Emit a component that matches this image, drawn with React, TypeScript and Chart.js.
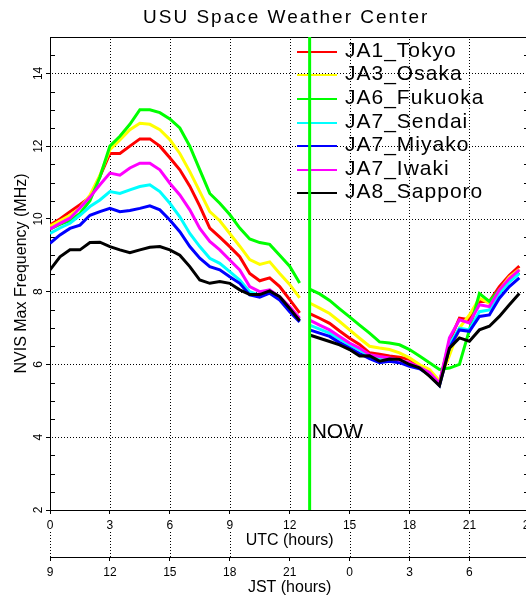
import React, { useEffect, useRef } from "react";
import { Chart, registerables } from "chart.js";

Chart.register(...registerables);

// ---- data ----
const HOURS_DAY = [0, 0.5, 1, 1.5, 2, 2.5, 3, 3.5, 4, 4.5, 5, 5.5, 6, 6.5, 7, 7.5, 8, 8.5, 9, 9.5, 10, 10.5, 11, 11.5, 12, 12.5];
const HOURS_NIGHT = [13, 13.5, 14, 14.5, 15, 15.5, 16, 16.5, 17, 17.5, 18, 18.5, 19, 19.5, 20, 20.5, 21, 21.5, 22, 22.5, 23, 23.5];

const STATIONS = ["JA1_Tokyo", "JA3_Osaka", "JA6_Fukuoka", "JA7_Sendai", "JA7_Miyako", "JA7_Iwaki", "JA8_Sapporo"];
const COLORS = ["#ff0000", "#ffff00", "#00ff00", "#00ffff", "#0000ff", "#ff00ff", "#000000"];

const TOKYO_DAY = [9.83, 10.0, 10.2, 10.39, 10.6, 11.17, 11.8, 11.8, 12.0, 12.2, 12.2, 12.0, 11.68, 11.35, 10.9, 10.35, 9.75, 9.5, 9.24, 8.96, 8.5, 8.3, 8.38, 8.14, 7.78, 7.42];
const TOKYO_NIGHT = [7.4, 7.27, 7.13, 6.92, 6.72, 6.55, 6.32, 6.28, 6.23, 6.2, 6.14, 5.95, 5.82, 5.5, 6.64, 7.27, 7.23, 7.73, 7.73, 8.14, 8.45, 8.7];

const OSAKA_DAY = [9.8, 9.95, 10.1, 10.3, 10.65, 11.2, 11.9, 12.17, 12.45, 12.63, 12.6, 12.45, 12.18, 11.8, 11.3, 10.75, 10.2, 9.95, 9.6, 9.25, 8.88, 8.75, 8.82, 8.5, 8.2, 7.83];
const OSAKA_NIGHT = [7.69, 7.55, 7.4, 7.18, 6.95, 6.72, 6.5, 6.45, 6.41, 6.32, 6.18, 6.0, 5.86, 5.55, 6.25, 7.0, 7.36, 7.82, 7.68, 8.05, 8.4, 8.62];

const FUKUOKA_DAY = [9.72, 9.85, 9.95, 10.15, 10.5, 11.15, 12.0, 12.27, 12.6, 13.0, 13.0, 12.92, 12.75, 12.5, 12.0, 11.35, 10.7, 10.43, 10.12, 9.75, 9.45, 9.35, 9.3, 9.0, 8.7, 8.24];
const FUKUOKA_NIGHT = [8.07, 7.94, 7.76, 7.53, 7.31, 7.08, 6.86, 6.62, 6.59, 6.54, 6.41, 6.23, 6.05, 5.86, 5.9, 6.0, 6.95, 7.95, 7.73, 8.05, 8.32, 8.52];

const SENDAI_DAY = [9.6, 9.75, 9.88, 10.1, 10.34, 10.52, 10.75, 10.7, 10.8, 10.89, 10.94, 10.75, 10.43, 10.06, 9.6, 9.24, 8.92, 8.78, 8.55, 8.32, 8.0, 7.9, 7.97, 7.82, 7.5, 7.22];
const SENDAI_NIGHT = [7.08, 6.97, 6.86, 6.7, 6.54, 6.4, 6.23, 6.18, 6.14, 6.08, 6.0, 5.9, 5.75, 5.45, 6.55, 7.0, 6.95, 7.45, 7.5, 7.95, 8.27, 8.5];

const MIYAKO_DAY = [9.33, 9.56, 9.74, 9.83, 10.1, 10.2, 10.29, 10.2, 10.23, 10.29, 10.36, 10.25, 9.97, 9.65, 9.24, 8.92, 8.69, 8.6, 8.41, 8.23, 7.91, 7.85, 7.96, 7.77, 7.45, 7.17];
const MIYAKO_NIGHT = [6.95, 6.86, 6.77, 6.6, 6.45, 6.3, 6.16, 6.05, 6.09, 6.05, 5.95, 5.88, 5.72, 5.42, 6.45, 6.95, 6.91, 7.32, 7.36, 7.82, 8.14, 8.38];

const IWAKI_DAY = [9.72, 9.88, 10.02, 10.3, 10.6, 10.94, 11.26, 11.2, 11.4, 11.53, 11.53, 11.35, 10.98, 10.66, 10.25, 9.74, 9.38, 9.15, 8.87, 8.6, 8.14, 8.0, 8.05, 7.86, 7.59, 7.27];
const IWAKI_NIGHT = [7.22, 7.08, 6.95, 6.77, 6.59, 6.45, 6.27, 6.22, 6.18, 6.12, 6.05, 5.92, 5.78, 5.48, 6.73, 7.23, 7.14, 7.64, 7.59, 8.05, 8.36, 8.6];

const SAPPORO_DAY = [8.6, 8.96, 9.15, 9.15, 9.35, 9.36, 9.24, 9.15, 9.07, 9.15, 9.22, 9.24, 9.15, 9.0, 8.69, 8.32, 8.23, 8.28, 8.23, 8.05, 7.92, 7.92, 8.02, 7.86, 7.54, 7.2];
const SAPPORO_NIGHT = [6.81, 6.72, 6.63, 6.54, 6.41, 6.23, 6.24, 6.09, 6.15, 6.14, 6.0, 5.91, 5.68, 5.42, 6.45, 6.73, 6.64, 6.95, 7.05, 7.32, 7.64, 7.95];

const DAY_VALUES = [TOKYO_DAY, OSAKA_DAY, FUKUOKA_DAY, SENDAI_DAY, MIYAKO_DAY, IWAKI_DAY, SAPPORO_DAY];
const NIGHT_VALUES = [TOKYO_NIGHT, OSAKA_NIGHT, FUKUOKA_NIGHT, SENDAI_NIGHT, MIYAKO_NIGHT, IWAKI_NIGHT, SAPPORO_NIGHT];

const UTC_TICKS = [0, 3, 6, 9, 12, 15, 18, 21, 24];
const JST_LABELS = ["9", "12", "15", "18", "21", "0", "3", "6", "9"];
const Y_TICKS = [2, 4, 6, 8, 10, 12, 14];
const Y_TICK_LABELS = ["2", "4", "6", "8", "10", "12", "14"];
const NOW_HOUR = 13;
const GAP_HOUR = 12.75;

const TITLE = "USU Space Weather Center";
const Y_TITLE = "NVIS Max Frequency (MHz)";
const X_TITLE = "UTC (hours)";
const X2_TITLE = "JST (hours)";
const NOW_LABEL = "NOW";

const FONT = "'Liberation Sans', Arial, Helvetica, sans-serif";

function buildSeries(day: number[], night: number[]) {
  const pts: { x: number; y: number | null }[] = [];
  HOURS_DAY.forEach((h, i) => pts.push({ x: h, y: day[i] }));
  pts.push({ x: GAP_HOUR, y: null });
  HOURS_NIGHT.forEach((h, i) => pts.push({ x: h, y: night[i] }));
  return pts;
}

function dotsV(ctx: CanvasRenderingContext2D, x: number, y1: number, y2: number) {
  for (let y = y1; y <= y2; y += 3) ctx.fillRect(x, y, 1, 1);
}
function dotsH(ctx: CanvasRenderingContext2D, y: number, x1: number, x2: number) {
  for (let x = x1; x <= x2; x += 3) ctx.fillRect(x, y, 1, 1);
}

const decorPlugin = {
  id: "decor",
  beforeDraw(chart: any) {
    const { ctx } = chart;
    ctx.save();
    ctx.fillStyle = "#ffffff";
    ctx.fillRect(0, 0, chart.width, chart.height);
    ctx.restore();
  },
  beforeDatasetsDraw(chart: any) {
    const { ctx, chartArea, scales } = chart;
    const ys = scales.y;
    const xs = scales.x;
    const x2 = scales.x2;
    ctx.save();
    ctx.fillStyle = "#000000";
    const left = Math.round(chartArea.left);
    const right = Math.round(chartArea.right);
    const top = Math.round(chartArea.top);
    const bottom = Math.round(chartArea.bottom);

    // dotted grid at the scales' ticks
    xs.ticks.forEach((t: any) => {
      if (t.value >= 24) return;
      const px = Math.round(xs.getPixelForValue(t.value));
      if (t.value > 0) dotsV(ctx, px, top + 2, bottom - 1);
      if (t.value !== 12) dotsV(ctx, px, bottom + 22, Math.round(x2.top) - 1);
    });
    ys.ticks.forEach((t: any) => {
      if (t.value <= 2) return;
      const py = Math.round(ys.getPixelForValue(t.value));
      dotsH(ctx, py, left + 2, right);
    });

    // top border
    ctx.fillRect(left, top, right - left, 1);
    // minor ticks every 0.5 (inward, both sides)
    for (let v = 2.5; v < 15; v += 0.5) {
      if (Math.abs(v % 2) < 1e-6) continue;
      const py = Math.round(ys.getPixelForValue(v));
      ctx.fillRect(left, py, 5, 1);
      ctx.fillRect(right - 5, py, 5, 1);
    }

    // rotated y tick labels
    ctx.font = `12px ${FONT}`;
    ctx.textAlign = "center";
    ctx.textBaseline = "alphabetic";
    Y_TICKS.forEach((v, i) => {
      const py = ys.getPixelForValue(v);
      ctx.save();
      ctx.translate(chartArea.left - 8, py);
      ctx.rotate(-Math.PI / 2);
      ctx.fillText(Y_TICK_LABELS[i], 0, 0);
      ctx.restore();
    });

    // y axis title
    ctx.save();
    ctx.font = `16px ${FONT}`;
    ctx.translate(26, (chartArea.top + chartArea.bottom) / 2);
    ctx.rotate(-Math.PI / 2);
    ctx.textAlign = "center";
    ctx.fillText(Y_TITLE, 0, 0);
    ctx.restore();

    // title
    ctx.font = `19px ${FONT}`;
    ctx.textAlign = "left";
    (ctx as any).letterSpacing = "2px";
    ctx.fillText(TITLE, 143, 23);

    // legend
    ctx.font = `21px ${FONT}`;
    (ctx as any).letterSpacing = "1px";
    STATIONS.forEach((name, i) => {
      const base = 56.7 + i * 23.6;
      ctx.fillStyle = COLORS[i];
      ctx.fillRect(297, Math.round(base - 6), 40, 2);
      ctx.fillStyle = "#000";
      ctx.fillText(name, 345, base);
    });
    (ctx as any).letterSpacing = "0px";

    // NOW label
    ctx.font = `21px ${FONT}`;
    ctx.fillText(NOW_LABEL, xs.getPixelForValue(NOW_HOUR) + 2, ys.getPixelForValue(4) + 1);
    ctx.restore();
  },
};

export default function App() {
  const ref = useRef<HTMLCanvasElement | null>(null);

  useEffect(() => {
    if (!ref.current) return;
    const datasets: any[] = STATIONS.map((name, i) => ({
      label: name,
      data: buildSeries(DAY_VALUES[i], NIGHT_VALUES[i]),
      borderColor: COLORS[i],
      backgroundColor: COLORS[i],
      borderWidth: 3,
      pointRadius: 0,
      tension: 0,
      fill: false,
      spanGaps: false,
      order: STATIONS.length - i,
    }));
    datasets.push({
      label: "NOW",
      data: [
        { x: NOW_HOUR, y: 2 },
        { x: NOW_HOUR, y: 15 },
      ],
      borderColor: "#00ff00",
      borderWidth: 3,
      pointRadius: 0,
      fill: false,
      order: 0,
    });

    const tickList = (vals: number[]) => (s: any) => {
      s.ticks = vals.map((v) => ({ value: v }));
    };

    const chart = new Chart(ref.current, {
      type: "line",
      data: { datasets },
      options: {
        animation: false,
        responsive: false,
        layout: { padding: { top: 37, right: 10, left: 0, bottom: 0 } },
        plugins: { legend: { display: false }, tooltip: { enabled: false }, title: { display: false } },
        scales: {
          x: {
            type: "linear",
            position: "bottom",
            min: 0,
            max: 24,
            weight: 0,
            afterBuildTicks: tickList(UTC_TICKS),
            afterFit: (s: any) => {
              s.height = 47;
            },
            grid: { display: true, drawOnChartArea: false, color: "#000", lineWidth: 1, drawTicks: true, tickLength: 4, tickColor: "#000" },
            border: { display: true, color: "#000", width: 1 },
            ticks: { color: "#000", font: { family: FONT, size: 12 }, padding: 4, maxRotation: 0, autoSkip: false, callback: (v: any) => String(v) },
            title: { display: true, text: X_TITLE, color: "#000", font: { family: FONT, size: 16 }, padding: { top: 0, bottom: 7 } },
          },
          x2: {
            type: "linear",
            position: "bottom",
            min: 0,
            max: 24,
            weight: 1,
            afterBuildTicks: tickList(UTC_TICKS),
            afterFit: (s: any) => {
              s.height = 43;
            },
            grid: { display: true, drawOnChartArea: false, drawTicks: true, tickLength: 4, color: "#000", tickColor: "#000" },
            border: { display: true, color: "#000", width: 1 },
            ticks: {
              color: "#000",
              font: { family: FONT, size: 12 },
              padding: 4,
              maxRotation: 0,
              autoSkip: false,
              callback: (v: any) => {
                const idx = UTC_TICKS.indexOf(Number(v));
                return idx >= 0 ? JST_LABELS[idx] : "";
              },
            },
            title: { display: true, text: X2_TITLE, color: "#000", font: { family: FONT, size: 16 }, padding: { top: 0, bottom: 3 } },
          },
          y: {
            type: "linear",
            min: 2,
            max: 15,
            afterBuildTicks: tickList(Y_TICKS),
            afterFit: (s: any) => {
              s.width = 50;
            },
            grid: { display: true, drawOnChartArea: false, color: "#000", lineWidth: 1, drawTicks: true, tickLength: 4, tickColor: "#000" },
            border: { display: true, color: "#000", width: 1 },
            ticks: { display: false },
          },
        },
      } as any,
      plugins: [decorPlugin],
    });
    return () => chart.destroy();
  }, []);

  return (
    <div style={{ position: "fixed", left: 0, top: 0, width: 526, height: 600, overflow: "hidden", background: "#fff" }}>
      <canvas ref={ref} width={540} height={600} style={{ display: "block", width: 540, height: 600 }} />
    </div>
  );
}
